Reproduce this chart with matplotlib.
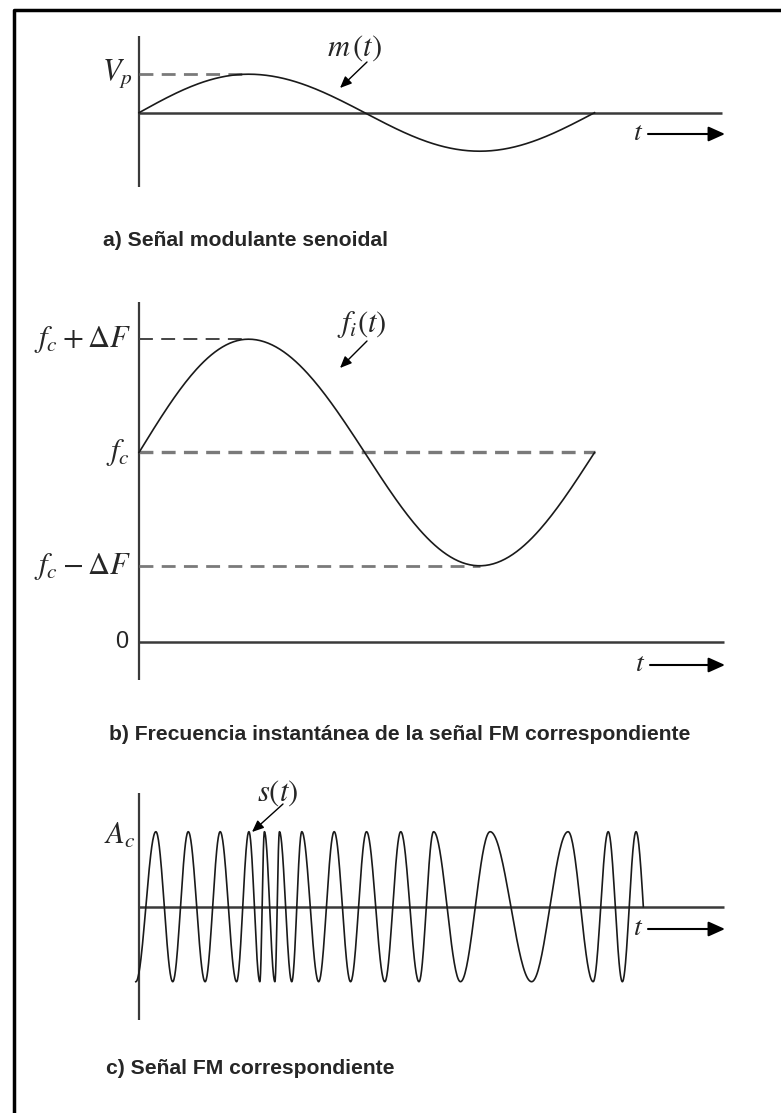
import numpy as np
import matplotlib
matplotlib.use('Agg')
import matplotlib.pyplot as plt
from matplotlib.lines import Line2D

plt.rcParams['mathtext.fontset'] = 'stix'
plt.rcParams['lines.scale_dashes'] = False

W, H = 781, 1113

# modulating signal m(t)/Vp, key points (t in modulating periods)
mod_t = [0.0, 0.24, 0.495, 0.747, 0.999]
mod_v = [0.0, 1.0, 0.0, -1.0, 0.0]

# instantaneous frequency, in units of deltaF
f_c = 1.67
delta_f = 1.0

# FM signal s(t)/Ac, extrema
fm_t = [-0.007, 0.037, 0.074, 0.108, 0.145, 0.178, 0.214, 0.241, 0.265,
        0.275, 0.298, 0.308, 0.335, 0.357, 0.394, 0.428, 0.464, 0.499,
        0.539, 0.574, 0.614, 0.646, 0.705, 0.770, 0.861, 0.941, 0.996,
        1.029, 1.060, 1.090, 1.106]
fm_v = [-1, 1, -1, 1, -1, 1, -1, 1, -1, 1, -1, 1, -1, 1, -1, 1, -1, 1,
        -1, 1, -1, 1, -1, 1, -1, 1, -1, 1, -1, 1, 0]

captions = ['a) Señal modulante senoidal',
            'b) Frecuencia instantánea de la señal FM correspondiente',
            'c) Señal FM correspondiente']

INK = '#1a1a1a'
AXC = '#3a3a3a'
DASH = '#7a7a7a'
TXT = '#262626'


def wave(tk, vk, n=60):
    # smooth sinusoidal segments between the key points
    ts, vs = [], []
    for i in range(len(tk) - 1):
        u = np.linspace(0, 1, n)
        a, b = vk[i], vk[i + 1]
        if a == 0:
            seg = b * np.sin(np.pi / 2 * u)
        elif b == 0:
            seg = a * np.cos(np.pi / 2 * u)
        else:
            seg = a + (b - a) * (1 - np.cos(np.pi * u)) / 2
        ts.append(tk[i] + (tk[i + 1] - tk[i]) * u)
        vs.append(seg)
    return np.concatenate(ts), np.concatenate(vs)


fig = plt.figure(figsize=(W / 100, H / 100), dpi=100)

X0, XS = 139, 456  # pixel of t=0, pixels per period


def panel(top, bottom, y0, ys):
    ax = fig.add_axes([0, 1 - bottom / H, 1, (bottom - top) / H])
    ax.set_xlim(-X0 / XS, (W - X0) / XS)
    ax.set_ylim((y0 - bottom) / ys, (y0 - top) / ys)
    ax.axis('off')

    def px(x, y):
        return ((x - X0) / XS, (y0 - y) / ys)
    return ax, px


def axes_lines(ax, px, ytop, ybot, yzero, xend):
    (x0, y1), (_, y2) = px(X0, ytop), px(X0, ybot)
    ax.plot([x0, x0], [y1, y2], color=AXC, lw=1.6, solid_capstyle='butt')
    xa, ya = px(X0, yzero)
    xb, _ = px(xend, yzero)
    ax.plot([xa, xb], [ya, ya], color=AXC, lw=1.8, solid_capstyle='butt')


def t_arrow(ax, px, xl, yl):
    ax.text(*px(xl, yl - 2), '$t$', fontsize=20, ha='center', va='center', color=TXT)
    ax.annotate('', xy=px(725, yl), xytext=px(xl + 10, yl),
                arrowprops=dict(arrowstyle='-|>,head_length=1.0,head_width=0.45',
                                lw=1.5, color='black', shrinkA=0, shrinkB=0))


def label_arrow(ax, px, start, end):
    ax.annotate('', xy=px(*end), xytext=px(*start),
                arrowprops=dict(arrowstyle='-|>,head_length=0.7,head_width=0.3',
                                lw=1.0, color='black', shrinkA=0, shrinkB=0))


# ---- a) modulating signal ----
ax, px = panel(20, 200, 112.7, 38.5)
axes_lines(ax, px, 36, 187, 112.7, 722)
ax.plot([0, mod_t[1]], [1, 1], color=DASH, lw=2.0, dashes=(10, 6))
tt, vv = wave(mod_t, mod_v)
ax.plot(tt, vv, color=INK, lw=1.2)
ax.text(*px(117, 74), '$V_p$', fontsize=22, ha='center', va='center', color=TXT)
ax.text(*px(355, 48), '$m\\,(t)$', fontsize=22, ha='center', va='center', color=TXT)
label_arrow(ax, px, (367, 62), (340, 88))
t_arrow(ax, px, 638, 134)

# ---- b) instantaneous frequency ----
ax, px = panel(290, 690, 641.7, 113.3)
axes_lines(ax, px, 302, 680, 641.7, 724)
ax.plot([0, mod_t[1]], [f_c + delta_f] * 2, color='#444444', lw=1.4, dashes=(10, 6))
ax.plot([0, mod_t[-1]], [f_c] * 2, color=DASH, lw=2.4, dashes=(10, 6))
ax.plot([0, mod_t[3]], [f_c - delta_f] * 2, color=DASH, lw=2.0, dashes=(10, 6))
tt, vv = wave(mod_t, mod_v)
ax.plot(tt, f_c + delta_f * vv, color=INK, lw=1.2)
ax.text(*px(131, 339), '$f_c + \\Delta F$', fontsize=22, ha='right', va='center', color=TXT)
ax.text(*px(130, 452), '$f_c$', fontsize=22, ha='right', va='center', color=TXT)
ax.text(*px(131, 566), '$f_c - \\Delta F$', fontsize=22, ha='right', va='center', color=TXT)
ax.text(*px(122, 642), '0', fontsize=17, ha='center', va='center', color=TXT,
        family='Liberation Sans')
ax.text(*px(362, 325), '$f_i(t)$', fontsize=22, ha='center', va='center', color=TXT)
label_arrow(ax, px, (367, 341), (340, 368))
t_arrow(ax, px, 640, 665)

# ---- c) FM signal ----
ax, px = panel(770, 1040, 906.7, 75)
axes_lines(ax, px, 793, 1020, 906.7, 724)
tt, vv = wave(fm_t, fm_v, n=40)
ax.plot(tt, vv, color=INK, lw=1.2)
ax.text(*px(120, 835), '$A_c$', fontsize=22, ha='center', va='center', color=TXT)
ax.text(*px(278, 793), '$s(t)$', fontsize=22, ha='center', va='center', color=TXT)
label_arrow(ax, px, (283, 804), (252, 832))
t_arrow(ax, px, 638, 929)

# captions
for (x, y), s in zip([(103, 240), (109, 735), (106, 1069)], captions):
    fig.text(x / W, 1 - y / H, s, fontsize=15.2, fontweight='bold', color=TXT,
             ha='left', va='center', family='Liberation Sans')

# frame
fig.add_artist(Line2D([14 / W, 14 / W, 1.0], [0.0, 1 - 10 / H, 1 - 10 / H],
                      color='black', lw=2.5, transform=fig.transFigure))

fig.savefig('out.png', dpi=100)
